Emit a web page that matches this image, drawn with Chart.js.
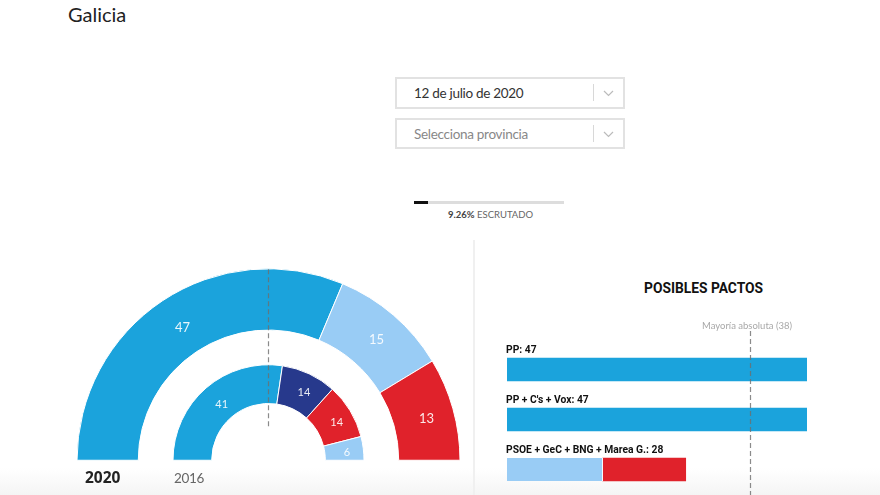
<!DOCTYPE html>
<html>
<head>
<meta charset="utf-8">
<script src="https://cdn.jsdelivr.net/npm/chart.js@4/dist/chart.umd.js"></script>
<style>
html, body { margin: 0; padding: 0; background: #fff; overflow: hidden; }
body { width: 880px; height: 495px; position: relative; font-family: "Noto Sans", sans-serif; }
canvas { position: absolute; }
.txt { position: absolute; white-space: nowrap; }
.box { position: absolute; left: 395px; width: 226px; height: 28px; border: 2px solid #e2e2e2; }
.box span { position: absolute; left: 17px; top: 4px; font-size: 13.5px; letter-spacing: -.3px; line-height: 20px; font-family: Lato, sans-serif; }
.box i { position: absolute; left: 196px; top: 5px; width: 1px; height: 17px; background: #d8d8d8; }
.box svg { position: absolute; left: 206px; top: 11px; }
#fade { position: absolute; left: 0; top: 468px; width: 880px; height: 27px; background: linear-gradient(rgba(240,240,240,0), rgba(240,240,240,.7)); }
</style>
</head>
<body>
<div id="fade"></div>
<div class="txt" style="left:68px;top:0;font-size:20px;line-height:28px;color:#222;font-family:Lato,sans-serif">Galicia</div>

<div class="box" style="top:77px"><span style="color:#333">12 de julio de 2020</span><i></i>
<svg width="11" height="7"><path d="M1 1 L5.5 5.5 L10 1" fill="none" stroke="#bbb" stroke-width="1.2"/></svg></div>
<div class="box" style="top:118px;height:27px"><span style="color:#888">Selecciona provincia</span><i></i>
<svg width="11" height="7"><path d="M1 1 L5.5 5.5 L10 1" fill="none" stroke="#bbb" stroke-width="1.2"/></svg></div>

<div style="position:absolute;left:414px;top:201px;width:150px;height:3px;background:#ddd"><div id="prog" style="height:3px;background:#111"></div></div>
<div class="txt" style="left:448px;top:208px;font-size:9.5px;line-height:14px;color:#666;font-family:Lato,sans-serif"><b id="progTxt" style="color:#444"></b> ESCRUTADO</div>

<div style="position:absolute;left:473px;top:240px;width:2px;height:255px;background:#f0f0f0"></div>

<canvas id="arcs2020" style="left:60px;top:260px"></canvas>
<canvas id="arcs2016" style="left:60px;top:260px"></canvas>
<div class="txt" style="left:85px;top:466px;font-size:15.5px;line-height:22px;font-weight:700;color:#222">2020</div>
<div class="txt" style="left:174px;top:467px;font-size:13.5px;letter-spacing:-.3px;line-height:22px;color:#666;font-family:Lato,sans-serif">2016</div>

<div class="txt" style="left:644px;top:279px;font-size:13.8px;line-height:18px;font-weight:700;color:#111;font-family:Roboto,sans-serif">POSIBLES PACTOS</div>
<canvas id="pactos" style="left:490px;top:310px"></canvas>

<script>
const escrutado = 9.26;

const partidos2020 = ["PP", "PSOE", "Marea/BNG"];
const escanos2020 = [47, 15, 13];
const colores2020 = ["#1ba3dc", "#99ccf5", "#e0222b"];

const partidos2016 = ["PP", "En Marea", "PSOE", "BNG"];
const escanos2016 = [41, 14, 14, 6];
const colores2016 = ["#1ba3dc", "#27398c", "#e0222b", "#99ccf5"];

const pactos = ["PP: 47", "PP + C's + Vox: 47", "PSOE + GeC + BNG + Marea G.: 28"];
const pactoAzul = [47, 47, null];
const pactoClaro = [null, null, 15];
const pactoRojo = [null, null, 13];
const mayoria = 38;
const mayoriaTexto = "Mayoría absoluta (38)";

document.getElementById("prog").style.width = escrutado + "%";
document.getElementById("progTxt").textContent = escrutado + "%";

Chart.defaults.font.family = '"Noto Sans", sans-serif';

// numeros encima de cada porcion
const etiquetasArco = {
    id: "etiquetasArco",
    afterDatasetsDraw(chart, args, opts) {
        const ctx = chart.ctx;
        const meta = chart.getDatasetMeta(0);
        ctx.save();
        ctx.fillStyle = "rgba(255,255,255,.9)";
        ctx.font = opts.size + 'px Lato';
        ctx.textAlign = "center";
        ctx.textBaseline = "middle";
        meta.data.forEach((arc, i) => {
            const p = arc.getCenterPoint();
            ctx.fillText(chart.data.datasets[0].data[i], p.x + 3, p.y + 1.5);
        });
        ctx.restore();
    }
};

// linea de mayoria sobre los dos arcos
const lineaArco = {
    id: "lineaArco",
    afterDatasetsDraw(chart, args, opts) {
        if (!opts.activo) return;
        const arc = chart.getDatasetMeta(0).data[0];
        const ctx = chart.ctx;
        ctx.save();
        ctx.strokeStyle = "rgba(110,110,110,.8)";
        ctx.lineWidth = 1.2;
        ctx.setLineDash([5, 3]);
        ctx.beginPath();
        ctx.moveTo(Math.floor(arc.x) + 0.5, arc.y - 191);
        ctx.lineTo(Math.floor(arc.x) + 0.5, arc.y - 34);
        ctx.stroke();
        ctx.restore();
    }
};

function hacerArco(id, nombres, valores, colores, radio, corte, arriba, tam, linea) {
    const c = document.getElementById(id);
    c.width = 417;
    c.height = 209;
    new Chart(c, {
        type: "doughnut",
        data: {
            labels: nombres,
            datasets: [{ data: valores, backgroundColor: colores, borderColor: "#fff", borderWidth: 1 }]
        },
        options: {
            responsive: false,
            animation: false,
            rotation: -90,
            circumference: 180,
            radius: radio,
            cutout: corte,
            layout: { padding: { top: arriba } },
            plugins: {
                legend: { display: false },
                tooltip: { enabled: false },
                etiquetasArco: { size: tam },
                lineaArco: { activo: linea }
            }
        },
        plugins: [etiquetasArco, lineaArco]
    });
}

hacerArco("arcs2020", partidos2020, escanos2020, colores2020, 191.5, "68%", 0, 13, false);
hacerArco("arcs2016", partidos2016, escanos2016, colores2016, 95.5, "59.5%", 96, 11, true);

// textos de cada pacto y linea de mayoria absoluta
const extrasPactos = {
    id: "extrasPactos",
    afterDatasetsDraw(chart) {
        const ctx = chart.ctx;
        const x = chart.scales.x;
        const y = chart.scales.y;
        ctx.save();
        ctx.fillStyle = "#111";
        ctx.font = 'bold 10.3px Roboto';
        ctx.textAlign = "left";
        ctx.textBaseline = "middle";
        pactos.forEach((t, i) => {
            ctx.fillText(t, x.left - 1, y.getPixelForValue(i) - 19.5);
        });
        const px = Math.round(x.getPixelForValue(mayoria)) + 0.5;
        ctx.strokeStyle = "rgba(110,110,110,.8)";
        ctx.lineWidth = 1.2;
        ctx.setLineDash([5, 3]);
        ctx.beginPath();
        ctx.moveTo(px, 21);
        ctx.lineTo(px, chart.height);
        ctx.stroke();
        ctx.fillStyle = "#a8a8a8";
        ctx.font = '9.5px Lato';
        ctx.textAlign = "center";
        ctx.fillText(mayoriaTexto, px - 3.5, 15.5);
        ctx.restore();
    }
};

const cp = document.getElementById("pactos");
cp.width = 340;
cp.height = 185;
new Chart(cp, {
    type: "bar",
    data: {
        labels: pactos,
        datasets: [
            { data: pactoAzul, backgroundColor: "#1ba3dc" },
            { data: pactoClaro, backgroundColor: "#99ccf5", borderColor: "#fff", borderWidth: { right: 1 } },
            { data: pactoRojo, backgroundColor: "#e0222b", borderColor: "#fff", borderWidth: { left: 1 } }
        ]
    },
    options: {
        indexAxis: "y",
        responsive: false,
        animation: false,
        layout: { padding: { left: 17, right: 23, top: 34.5, bottom: 0.5 } },
        datasets: { bar: { barThickness: 23 } },
        scales: {
            x: { stacked: true, min: 0, max: 47, display: false },
            y: { stacked: true, display: false }
        },
        plugins: { legend: { display: false }, tooltip: { enabled: false } }
    },
    plugins: [extrasPactos]
});
</script>
</body>
</html>
